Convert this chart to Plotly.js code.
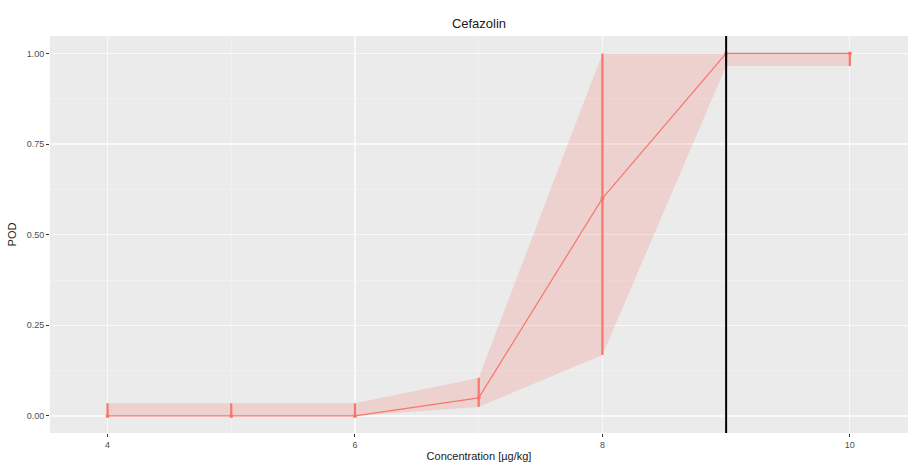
<!DOCTYPE html>
<html>
<head>
<meta charset="utf-8">
<script src="https://cdn.plot.ly/plotly-3.0.1.min.js"></script>
<style>
  html, body { margin: 0; padding: 0; background: #ffffff; }
  #chart { width: 913px; height: 474px; }
</style>
</head>
<body>
<div id="chart"></div>
<script>
// Probability of detection for Cefazolin by spiking concentration
const concentration = [4, 5, 6, 7, 8, 9, 10];
const pod = [0, 0, 0, 0.05, 0.60, 1, 1];
const podLower = [0, 0, 0, 0.025, 0.168, 0.965, 0.965];
const podUpper = [0.035, 0.035, 0.035, 0.105, 1, 1, 1];
const threshold = 9;
const xTicks = [4, 6, 8, 10];
const yTicks = [0, 0.25, 0.5, 0.75, 1];
const yTickLabels = ['0.00', '0.25', '0.50', '0.75', '1.00'];

const red = '#F8766D';
const band = 'rgba(248,118,109,0.22)';

const traces = [
  {
    x: concentration, y: podLower, type: 'scatter', mode: 'lines',
    line: { width: 0, color: band }, hoverinfo: 'skip', showlegend: false
  },
  {
    x: concentration, y: podUpper, type: 'scatter', mode: 'lines',
    fill: 'tonexty', fillcolor: band,
    line: { width: 0, color: band }, hoverinfo: 'skip', showlegend: false
  },
  {
    x: concentration, y: pod, type: 'scatter', mode: 'lines+markers',
    line: { color: red, width: 1.2 },
    marker: { color: red, size: 4 },
    error_y: {
      type: 'data', symmetric: false,
      array: pod.map((v, i) => podUpper[i] - v),
      arrayminus: pod.map((v, i) => v - podLower[i]),
      color: red, thickness: 2.2, width: 0
    },
    showlegend: false
  }
];

const layout = {
  width: 913, height: 474,
  margin: { l: 50, r: 5, t: 36, b: 41 },
  paper_bgcolor: '#ffffff',
  plot_bgcolor: '#EBEBEB',
  font: { family: 'Liberation Sans, Arial, sans-serif', color: '#4D4D4D', size: 9 },
  title: {
    text: 'Cefazolin',
    font: { size: 13, color: '#1a1a1a' },
    x: 0.5, xanchor: 'center', xref: 'paper',
    y: 1, yref: 'container', yanchor: 'top', pad: { t: 19 }
  },
  xaxis: {
    range: [3.535, 10.47],
    tickvals: xTicks, ticktext: xTicks.map(String),
    ticks: 'outside', ticklen: 3, tickwidth: 1, tickcolor: '#333333',
    showgrid: true, gridcolor: '#F9F9F9', gridwidth: 1.1,
    minor: { dtick: 1, tick0: 0, showgrid: true, gridcolor: '#F3F3F3', gridwidth: 0.6, ticks: '' },
    zeroline: false, showline: false,
    tickfont: { size: 9, color: '#4D4D4D' },
    title: { text: 'Concentration [µg/kg]', font: { size: 11, color: '#1a1a1a' }, standoff: 3 }
  },
  yaxis: {
    range: [-0.047, 1.048],
    tickvals: yTicks, ticktext: yTickLabels,
    ticks: 'outside', ticklen: 3, tickwidth: 1, tickcolor: '#333333',
    showgrid: true, gridcolor: '#F9F9F9', gridwidth: 1.1,
    minor: { dtick: 0.125, tick0: 0, showgrid: true, gridcolor: '#F3F3F3', gridwidth: 0.6, ticks: '' },
    zeroline: false, showline: false,
    tickfont: { size: 9, color: '#4D4D4D' },
    title: { text: 'POD', font: { size: 11, color: '#1a1a1a' }, standoff: 7 }
  },
  shapes: [
    {
      type: 'line', xref: 'x', yref: 'paper',
      x0: threshold, x1: threshold, y0: 0, y1: 1,
      line: { color: '#000000', width: 2 }
    }
  ]
};

Plotly.newPlot('chart', traces, layout, { staticPlot: true, displayModeBar: false });
</script>
</body>
</html>
